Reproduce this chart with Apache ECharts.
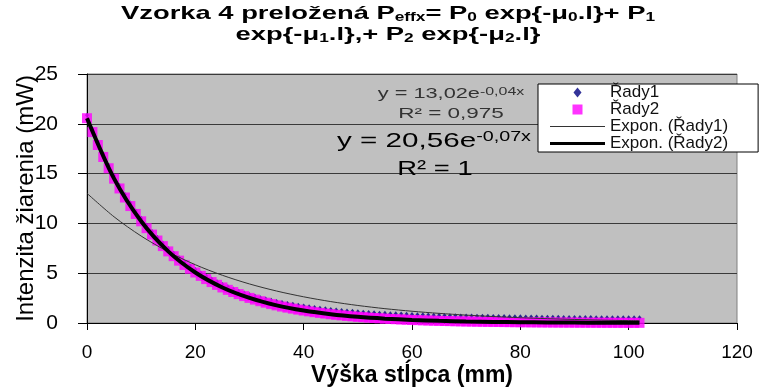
<!DOCTYPE html>
<html>
<head>
<meta charset="utf-8">
<script src="https://cdn.jsdelivr.net/npm/echarts@6/dist/echarts.min.js"></script>
<style>
  html, body { margin: 0; padding: 0; background: #fff; }
  #chart { width: 763px; height: 387px; }
</style>
</head>
<body>
<div id="chart"></div>
<script>
// výška stĺpca (mm)
var vyska = [0,1,2,3,4,5,6,7,8,9,10,11,12,13,14,15,16,17,18,19,20,21,22,23,24,25,26,27,28,29,
  30,31,32,33,34,35,36,37,38,39,40,41,42,43,44,45,46,47,48,49,50,51,52,53,54,55,56,57,58,59,
  60,61,62,63,64,65,66,67,68,69,70,71,72,73,74,75,76,77,78,79,80,81,82,83,84,85,86,87,88,89,
  90,91,92,93,94,95,96,97,98,99,100,101,102];

// Řady1 - namerané (mW)
var rady1 = [20.86,19.47,18.17,16.97,15.84,14.79,13.81,12.90,12.04,11.25,
  10.51,9.82,9.18,8.58,8.02,7.49,7.01,6.56,6.13,5.74,
  5.37,5.03,4.71,4.41,4.13,3.87,3.63,3.41,3.20,3.00,
  2.84,2.68,2.54,2.40,2.28,2.16,2.05,1.96,1.87,1.78,
  1.70,1.62,1.55,1.47,1.42,1.36,1.30,1.26,1.20,1.17,
  1.12,1.09,1.05,1.02,0.99,0.97,0.94,0.92,0.90,0.88,
  0.858,0.838,0.818,0.800,0.783,0.767,0.753,0.739,0.726,0.714,
  0.703,0.693,0.683,0.674,0.666,0.658,0.651,0.644,0.638,0.632,
  0.616,0.611,0.601,0.597,0.588,0.584,0.575,0.572,0.563,0.561,
  0.553,0.550,0.543,0.541,0.534,0.532,0.525,0.523,0.522,0.520,
  0.519,0.518,0.516];

// Řady2 - preložené (mW)
var rady2 = [20.56,19.17,17.87,16.67,15.54,14.49,13.51,12.60,11.74,10.95,
  10.21,9.52,8.88,8.28,7.72,7.19,6.71,6.26,5.83,5.44,
  5.07,4.73,4.41,4.11,3.83,3.57,3.33,3.11,2.90,2.70,
  2.52,2.35,2.19,2.04,1.90,1.77,1.65,1.54,1.44,1.34,
  1.25,1.17,1.09,1.01,0.945,0.881,0.822,0.766,0.714,0.666,
  0.621,0.579,0.540,0.503,0.469,0.438,0.408,0.380,0.355,0.331,
  0.308,0.288,0.268,0.250,0.233,0.217,0.203,0.189,0.176,0.164,
  0.153,0.143,0.133,0.124,0.116,0.108,0.101,0.094,0.088,0.082,
  0.076,0.071,0.066,0.062,0.058,0.054,0.050,0.047,0.043,0.041,
  0.038,0.035,0.033,0.031,0.029,0.027,0.025,0.023,0.022,0.020,
  0.019,0.018,0.016];

// exponenciálne trendy
var trendX  = [0,5,10,15,20,25,30,35,40,45,50,55,60,65,70,75,80,85,90,95,100,102];
var trend1Y = [13.02,10.66,8.73,7.15,5.85,4.79,3.92,3.21,2.63,2.15,1.76,1.44,1.18,0.967,0.792,0.648,0.531,0.434,0.356,0.291,0.238,0.220];
var trend2Y = [20.56,14.49,10.21,7.19,5.07,3.57,2.52,1.77,1.25,0.881,0.621,0.438,0.308,0.217,0.153,0.108,0.076,0.054,0.038,0.027,0.019,0.016];

var xTicks = [0,20,40,60,80,100,120];
var yTicks = [0,5,10,15,20,25];

var F = 'Arial, "Liberation Sans", sans-serif';

function zip(xs, ys) {
  var out = [];
  for (var i = 0; i < xs.length; i++) out.push([xs[i], ys[i]]);
  return out;
}

// text v Exceli je roztiahnutý do šírky -> scaleX
function txt(text, x, y, size, opts) {
  opts = opts || {};
  return {
    type: 'text', x: x, y: y, scaleX: opts.sx || 1.45, z: 100,
    style: {
      text: text, fontFamily: F, fontSize: size, fontWeight: opts.bold ? 'bold' : 'normal',
      fill: opts.color || '#000', align: 'center', verticalAlign: opts.va || 'middle',
      lineHeight: opts.lh, rich: opts.rich
    }
  };
}

var titleText = 'Vzorka 4 preložená P{s|effx}= P{s|0} exp{-μ{s|0}.l}+ P{s|1}\nexp{-μ{s|1}.l},+ P{s|2} exp{-μ{s|2}.l}';
var subRich = { s: { fontFamily: F, fontSize: 12, fontWeight: 'bold', fill: '#000', verticalAlign: 'bottom' } };
function supRich(size, color) {
  return { p: { fontFamily: F, fontSize: size, fill: color, verticalAlign: 'top' } };
}

var chart = echarts.init(document.getElementById('chart'), null, { renderer: 'canvas' });

chart.setOption({
  animation: false,
  backgroundColor: '#fff',
  graphic: [
    txt(titleText, 388, 3, 19, { bold: true, va: 'top', lh: 21, rich: subRich, sx: 1.44 }),
    txt('y = 13,02e{p|-0,04x}', 451, 94, 15, { color: '#333', rich: supRich(11, '#333'), sx: 1.45 }),
    txt('R² = 0,975', 451, 114, 15, { color: '#333', sx: 1.5 }),
    txt('y = 20,56e{p|-0,07x}', 434, 141, 21, { rich: supRich(14, '#000'), sx: 1.41 }),
    txt('R² = 1', 435, 169, 20, { sx: 1.37 })
  ],
  legend: {
    orient: 'vertical', left: 538, top: 84,
    backgroundColor: '#fff', borderColor: '#000', borderWidth: 1, borderRadius: 0,
    padding: [0, 30, 0, 12], itemGap: 0, itemWidth: 55, itemHeight: 10,
    symbolKeepAspect: true, selectedMode: false,
    textStyle: { fontFamily: F, fontSize: 17, color: '#111' },
    data: [
      { name: 'Řady1', icon: 'path://M4,0L8,5L4,10L0,5Z', itemStyle: { color: '#000080' } },
      { name: 'Řady2', icon: 'path://M0,0H10V10H0Z', itemStyle: { color: '#ff00ff' } },
      { name: 'Expon. (Řady1)', icon: 'path://M0,0H55V1H0Z', itemStyle: { color: '#333' } },
      { name: 'Expon. (Řady2)', icon: 'path://M0,0H55V3H0Z', itemStyle: { color: '#000' } }
    ]
  },
  grid: {
    left: 87, right: 26, top: 74, bottom: 64,
    outerBoundsMode: 'none', containLabel: false,
    show: true, backgroundColor: '#c0c0c0', borderColor: '#808080', borderWidth: 1
  },
  xAxis: {
    type: 'value', min: 0, max: 120, interval: 20,
    name: 'Výška stĺpca (mm)', nameLocation: 'middle', nameGap: 41, nameMoveOverlap: false,
    nameTextStyle: { fontFamily: F, fontSize: 23, fontWeight: 'bold', color: '#000' },
    axisLine: { show: true, lineStyle: { color: '#000', width: 1 } },
    axisTick: { show: true, length: 7, lineStyle: { color: '#000' } },
    axisLabel: { margin: 20, fontFamily: F, fontSize: 19, color: '#000', customValues: xTicks },
    splitLine: { show: false }
  },
  yAxis: {
    type: 'value', min: 0, max: 25, interval: 5,
    name: 'Intenzita žiarenia (mW)', nameLocation: 'middle', nameGap: 49, nameRotate: 90,
    nameMoveOverlap: false,
    nameTextStyle: { fontFamily: F, fontSize: 24, color: '#000' },
    axisLine: { show: true, lineStyle: { color: '#000', width: 1 } },
    axisTick: { show: true, length: 9, lineStyle: { color: '#000' } },
    axisLabel: { margin: 29, fontFamily: F, fontSize: 21, color: '#000', customValues: yTicks },
    splitLine: { show: true, lineStyle: { color: '#3a3a3a', width: 1 } }
  },
  series: [
    {
      name: 'Řady1', type: 'scatter', data: zip(vyska, rady1),
      symbol: 'diamond', symbolSize: [4, 5],
      itemStyle: { color: '#000080' }, z: 2
    },
    {
      name: 'Řady2', type: 'scatter', data: zip(vyska, rady2),
      symbol: 'rect', symbolSize: 10,
      itemStyle: { color: '#ff00ff' }, z: 3
    },
    {
      name: 'Expon. (Řady1)', type: 'line', data: zip(trendX, trend1Y),
      smooth: 0.3, symbol: 'none',
      lineStyle: { color: '#333', width: 1 }, z: 4
    },
    {
      name: 'Expon. (Řady2)', type: 'line', data: zip(trendX, trend2Y),
      smooth: 0.3, symbol: 'none',
      lineStyle: { color: '#000', width: 4 }, z: 5
    }
  ]
});
</script>
</body>
</html>
